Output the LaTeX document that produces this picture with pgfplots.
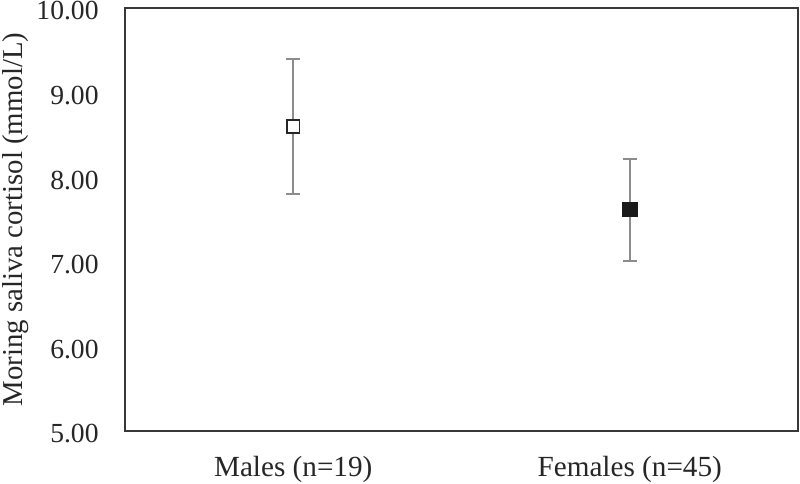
\documentclass[border=0pt]{standalone}
\usepackage{pgfplots}
\pgfplotsset{compat=1.18}
\usepackage{fontspec}
\setmainfont{Liberation Serif}
\begin{document}
\begin{tikzpicture}
\begin{axis}[
  scale only axis,
  width=336.5pt, height=211.5pt,
  xmin=-0.5, xmax=1.5,
  ymin=5, ymax=10,
  xtick={0,1},
  xticklabels={Males (n=19), Females (n=45)},
  ytick={5,6,7,8,9,10},
  yticklabel style={/pgf/number format/fixed, /pgf/number format/fixed zerofill, /pgf/number format/precision=2, inner sep=0pt, xshift=-13pt, yshift=-1.5pt},
  /pgf/number format/assume math mode=true,
  major tick length=0pt,
  tick label style={font=\fontsize{13.8}{16}\selectfont, text=black!85},
  xticklabel style={font=\fontsize{14.6}{17}\selectfont, inner sep=0pt, yshift=-12.5pt},
  ylabel={Moring saliva cortisol (mmol/L)},
  ylabel style={font=\fontsize{14.4}{17}\selectfont, text=black!85, inner sep=0pt, at={(axis description cs:-0.162,0.5)}, anchor=center},
  axis line style={black!78, line width=1pt},
  clip=false,
]
\coordinate (sw) at (rel axis cs:0,0);
\coordinate (ne) at (rel axis cs:1,1);
\addplot[only marks, mark=square*, mark options={fill=white, draw=black!85, line width=0.9pt}, mark size=3.1pt,
  error bars/.cd, y dir=both, y explicit,
  error bar style={black!45, line width=1pt},
  error mark options={black!45, line width=1pt, mark size=3.5pt, rotate=90}]
  coordinates {(0,8.60) +- (0,0.80)};
\addplot[only marks, mark=square*, mark options={fill=black!90, draw=black!90}, mark size=3.6pt,
  error bars/.cd, y dir=both, y explicit,
  error bar style={black!45, line width=1pt},
  error mark options={black!45, line width=1pt, mark size=3.5pt, rotate=90}]
  coordinates {(1,7.62) += (0,0.60) -= (0,0.61)};
\end{axis}
\pgfresetboundingbox
\path[use as bounding box] ([xshift=-62.5pt,yshift=-26.5pt]sw) rectangle ([xshift=1pt,yshift=4pt]ne);
\end{tikzpicture}
\end{document}
